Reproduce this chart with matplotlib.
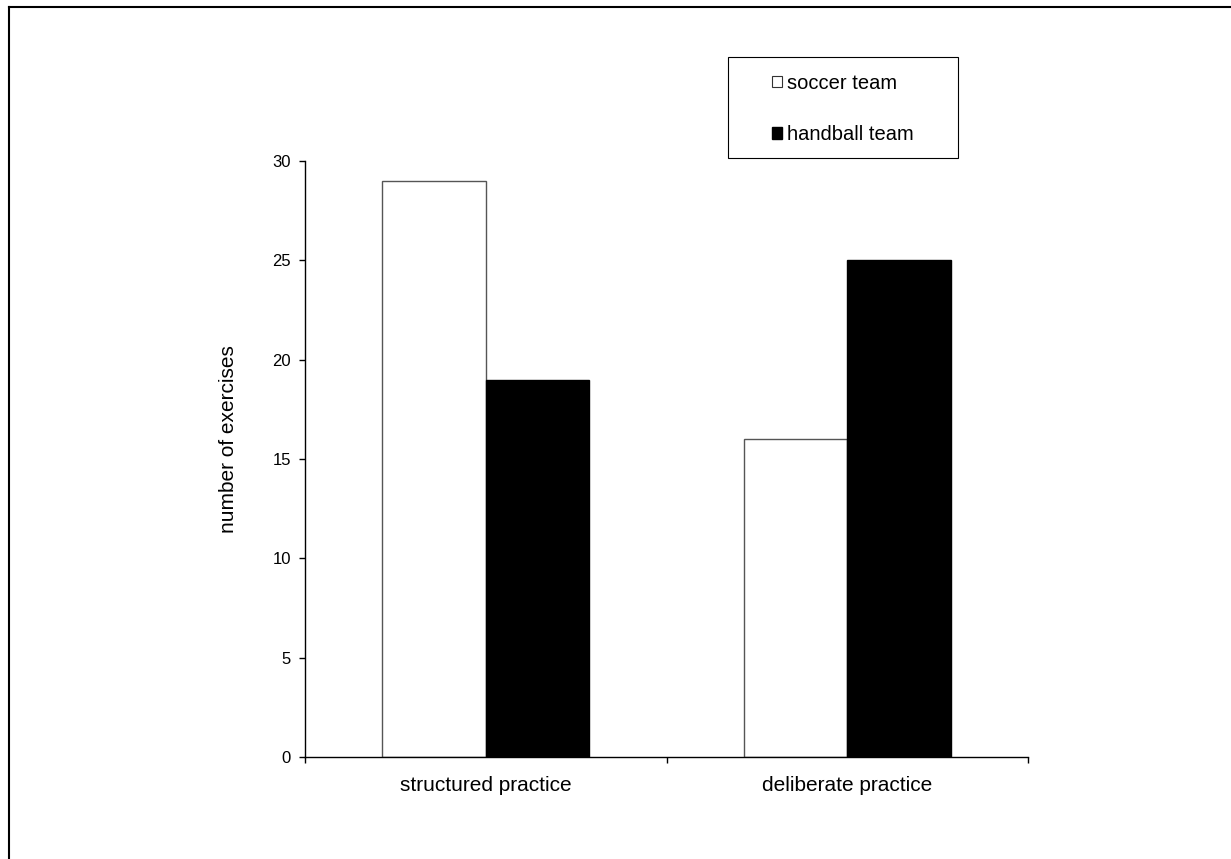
import numpy as np
import matplotlib.pyplot as plt
from matplotlib.patches import Patch, Rectangle
from matplotlib.lines import Line2D

plt.rcParams['font.family'] = ['Liberation Sans', 'DejaVu Sans']

# Data
categories = ['structured practice', 'deliberate practice']
soccer = [29, 16]      # soccer team
handball = [19, 25]    # handball team
yticks = [0, 5, 10, 15, 20, 25, 30]

W, H = 1231, 859
fig = plt.figure(figsize=(W / 100, H / 100), dpi=100)
ax = fig.add_axes([305 / W, 1 - 757 / H, (1028 - 305) / W, (757 - 161) / H])

x = np.arange(len(categories))
bw = 0.286
ax.bar(x - bw / 2, soccer, bw, color='white', edgecolor='#555555', linewidth=1.0,
       label='soccer team')
ax.bar(x + bw / 2, handball, bw, color='black', edgecolor='black', linewidth=1.0,
       label='handball team')

ax.set_xlim(-0.5, len(categories) - 0.5)
ax.set_ylim(0, 30)
ax.set_yticks(yticks)
ax.tick_params(axis='y', direction='out', length=4.3, width=1, pad=5.8, labelsize=12)

# category boundaries get the ticks, labels sit in between
ax.set_xticks(np.arange(len(categories) + 1) - 0.5)
ax.set_xticklabels([])
ax.set_xticks(x, minor=True)
ax.set_xticklabels(categories, minor=True, fontsize=15)
ax.tick_params(axis='x', which='major', direction='out', length=4.3, width=1)
ax.tick_params(axis='x', which='minor', length=0, pad=13.5)

for s in ['top', 'right']:
    ax.spines[s].set_visible(False)
for s in ['left', 'bottom']:
    ax.spines[s].set_linewidth(1)

ax.set_ylabel('number of exercises', fontsize=15)
ax.yaxis.set_label_coords(-0.093, 0.533)

# legend (frameless) plus its box
handles = [Patch(facecolor='white', edgecolor='#333333', linewidth=0.8),
           Patch(facecolor='black', edgecolor='black')]
fig.legend(handles, ['soccer team', 'handball team'], loc='center left',
           bbox_to_anchor=(772 / W, 1 - 109 / H), frameon=False, fontsize=14.5,
           borderpad=0, borderaxespad=0, handlelength=0.52, handleheight=0.52,
           handletextpad=0.22, labelspacing=1.62)
fig.add_artist(Rectangle((728 / W, 1 - 158 / H), (958 - 728) / W, (158 - 57) / H,
                         transform=fig.transFigure, fill=False, edgecolor='black',
                         linewidth=0.8))

# outer frame (top and left edges)
fig.add_artist(Line2D([9 / W, 9 / W], [0, 1 - 7 / H], transform=fig.transFigure,
                      color='black', linewidth=1.5))
fig.add_artist(Line2D([9 / W, 1], [1 - 7 / H, 1 - 7 / H], transform=fig.transFigure,
                      color='black', linewidth=1.5))

fig.savefig('out.png', dpi=100)
